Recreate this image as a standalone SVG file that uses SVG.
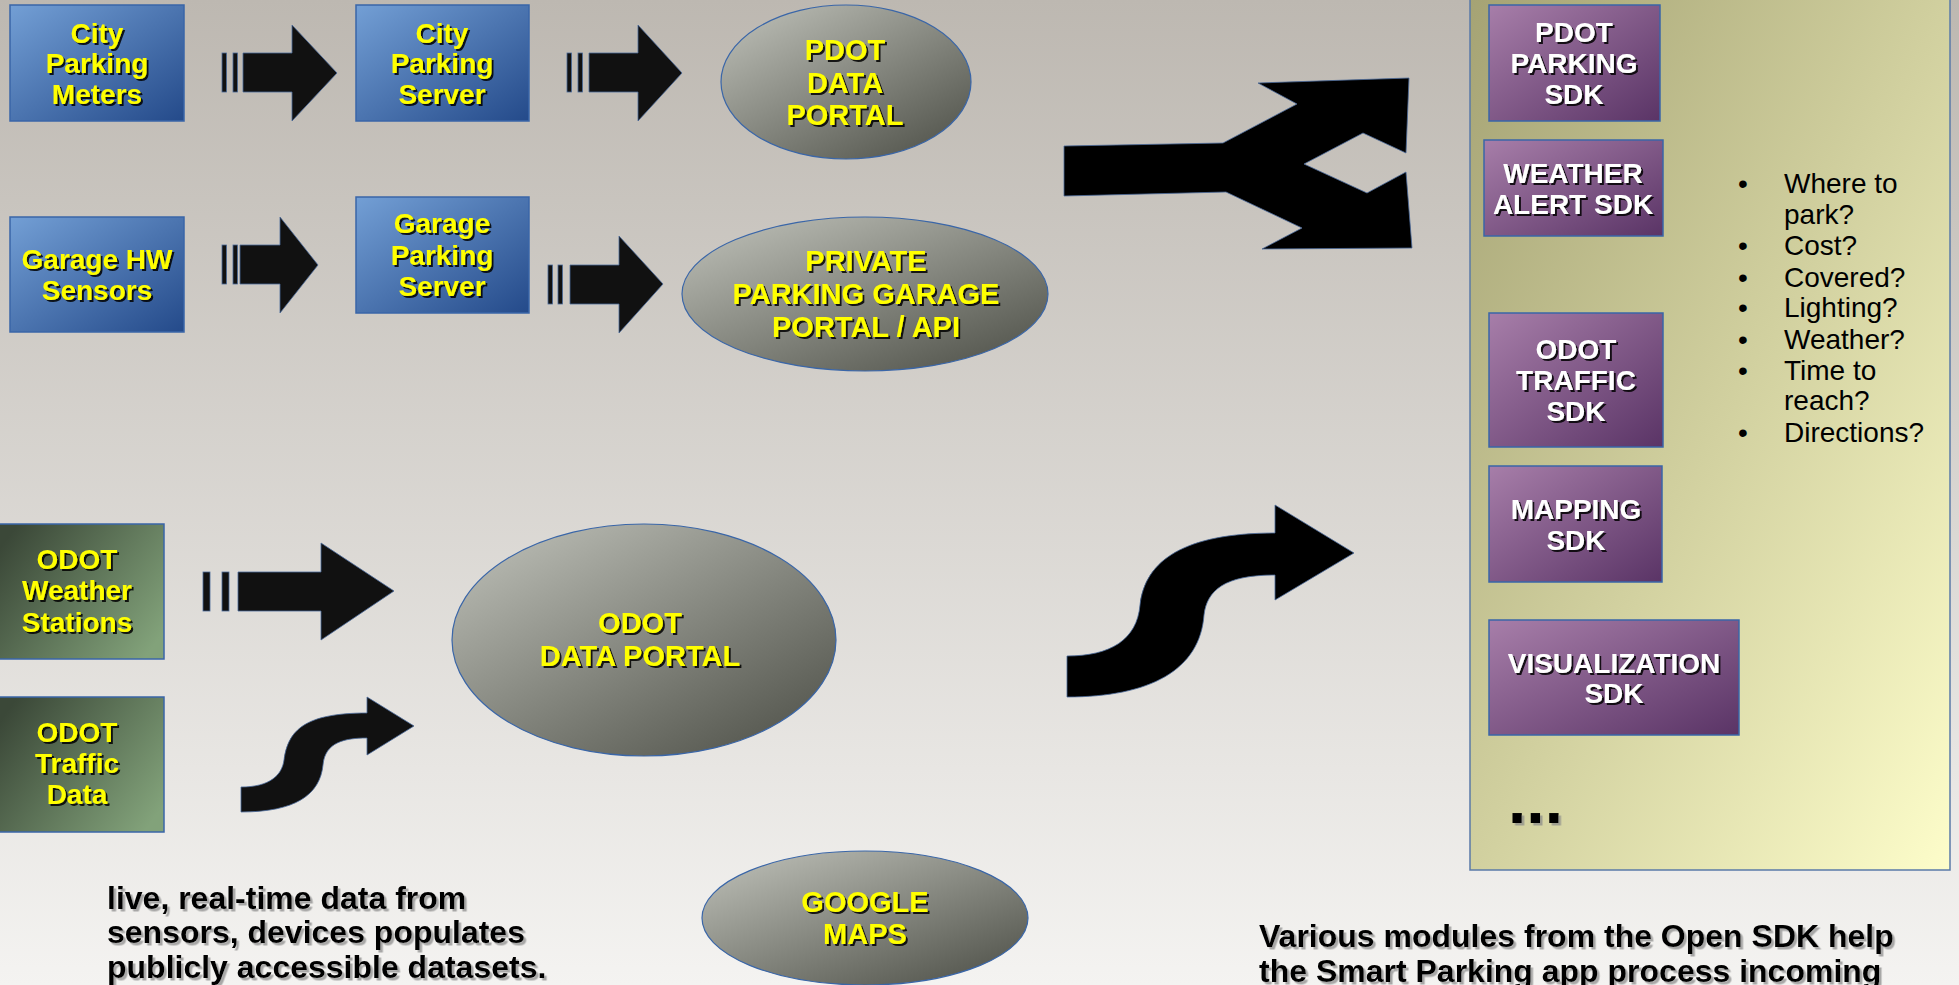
<svg xmlns="http://www.w3.org/2000/svg" width="1959" height="985" viewBox="0 0 1959 985">
<defs>
  <linearGradient id="bg" x1="0" y1="0" x2="0" y2="1">
    <stop offset="0" stop-color="#bdb8b1"/>
    <stop offset="1" stop-color="#f4f3f1"/>
  </linearGradient>
  <linearGradient id="panel" x1="0" y1="0" x2="1" y2="1">
    <stop offset="0" stop-color="#a5a374"/>
    <stop offset="1" stop-color="#fdfdca"/>
  </linearGradient>
  <linearGradient id="blue" x1="0" y1="0" x2="1" y2="1">
    <stop offset="0" stop-color="#739fd5"/>
    <stop offset="1" stop-color="#244a8a"/>
  </linearGradient>
  <linearGradient id="green" x1="0" y1="0.2" x2="1" y2="0.8">
    <stop offset="0" stop-color="#3b4838"/>
    <stop offset="1" stop-color="#82a27a"/>
  </linearGradient>
  <linearGradient id="purple" x1="0" y1="0" x2="1" y2="1">
    <stop offset="0" stop-color="#a77ea9"/>
    <stop offset="1" stop-color="#5a3466"/>
  </linearGradient>
  <linearGradient id="gray" x1="0.15" y1="0.1" x2="0.85" y2="0.9">
    <stop offset="0" stop-color="#b3b5ad"/>
    <stop offset="1" stop-color="#595b53"/>
  </linearGradient>
  <filter id="sh" x="-10%" y="-20%" width="130%" height="150%">
    <feDropShadow dx="2" dy="2" stdDeviation="0.6" flood-color="#000" flood-opacity="0.85"/>
  </filter>
  <filter id="shl" x="-10%" y="-20%" width="130%" height="150%">
    <feDropShadow dx="2.5" dy="2.5" stdDeviation="0.7" flood-color="#888" flood-opacity="0.7"/>
  </filter>
  <style>
    .bx { stroke: #3a66a8; stroke-width: 1.5; }
    .el { fill: url(#gray); stroke: #3a66a8; stroke-width: 1.2; }
    .yt { font-family: "Liberation Sans", Arial, sans-serif; font-weight: bold; font-size: 28px; fill: #ffff00; text-anchor: middle; filter: url(#sh); }
    .ye { font-size: 29px; }
    .wt { font-family: "Liberation Sans", Arial, sans-serif; font-weight: bold; font-size: 28px; fill: #ffffff; text-anchor: middle; filter: url(#sh); }
    .bt { font-family: "Liberation Sans", Arial, sans-serif; font-size: 28px; fill: #000; }
    .cap { font-family: "Liberation Sans", Arial, sans-serif; font-weight: bold; font-size: 32px; fill: #000; filter: url(#shl); }
    .arr { fill: #111; stroke: #4a6a9a; stroke-width: 0.8; }
    .arrb { fill: #000; stroke: #4a6a9a; stroke-width: 0.8; }
  </style>
</defs>

<rect x="0" y="0" width="1959" height="985" fill="url(#bg)"/>

<g id="sdk-panel">
  <rect x="1470" y="-2" width="480" height="872" fill="url(#panel)" stroke="#5a7aa8" stroke-width="1.5"/>
</g>

<g id="connectors">
  <rect class="arr" x="222" y="53" width="4.5" height="39"/>
  <rect class="arr" x="233" y="53" width="4.5" height="39"/>
  <path class="arr" d="M243,53 L292,53 L292,25 L337,73 L292,121 L292,92 L243,92 Z"/>
  <rect class="arr" x="567" y="53" width="4.5" height="39"/>
  <rect class="arr" x="578" y="53" width="4.5" height="39"/>
  <path class="arr" d="M589,53 L638,53 L638,25 L682,73 L638,121 L638,92 L589,92 Z"/>
  <rect class="arr" x="222" y="245" width="4.5" height="39"/>
  <rect class="arr" x="233" y="245" width="4.5" height="39"/>
  <path class="arr" d="M240,245 L280,245 L280,217 L318,265 L280,313 L280,284 L240,284 Z"/>
  <rect class="arr" x="548" y="265" width="4.5" height="39"/>
  <rect class="arr" x="558" y="265" width="4.5" height="39"/>
  <path class="arr" d="M570,265 L619,265 L619,236 L663,284 L619,333 L619,304 L570,304 Z"/>
  <path class="arrb" d="M1064,146 L1223,143 L1297,104 L1258,83 L1409,78 L1406,153 L1363,133 L1304,164 L1367,193 L1406,172 L1412,248 L1262,249 L1302,228 L1226,192 L1064,196 Z"/>
  <rect class="arr" x="203" y="572" width="7" height="39"/>
  <rect class="arr" x="222" y="572" width="7" height="39"/>
  <path class="arr" d="M238,572 L321,572 L321,543 L394,591 L321,640 L321,611 L238,611 Z"/>
  <path class="arr" d="M241,787 C270,787 282,775 284,760 C288,730 305,713 367,713 L367,697 L414,726 L367,755 L367,738 C345,738 325,742 323,765 C320,795 295,812 241,812 Z"/>
  <path class="arrb" d="M1067,656 C1110,656 1137,640 1140,605 C1145,560 1185,533 1275,533 L1275,505 L1354,553 L1275,600 L1275,575 C1225,575 1207,590 1204,615 C1200,670 1150,697 1067,697 Z"/>
</g>

<g id="city-parking-meters">
  <rect class="bx" x="10" y="5" width="174" height="116" fill="url(#blue)"/>
  <text class="yt" x="97" y="43">City</text>
  <text class="yt" x="97" y="73">Parking</text>
  <text class="yt" x="97" y="104">Meters</text>
</g>
<g id="city-parking-server">
  <rect class="bx" x="356" y="5" width="173" height="116" fill="url(#blue)"/>
  <text class="yt" x="442" y="43">City</text>
  <text class="yt" x="442" y="73">Parking</text>
  <text class="yt" x="442" y="104">Server</text>
</g>
<g id="garage-hw-sensors">
  <rect class="bx" x="10" y="217" width="174" height="115" fill="url(#blue)"/>
  <text class="yt" x="97" y="269">Garage HW</text>
  <text class="yt" x="97" y="300">Sensors</text>
</g>
<g id="garage-parking-server">
  <rect class="bx" x="356" y="197" width="173" height="116" fill="url(#blue)"/>
  <text class="yt" x="442" y="233">Garage</text>
  <text class="yt" x="442" y="265">Parking</text>
  <text class="yt" x="442" y="296">Server</text>
</g>
<g id="pdot-data-portal">
  <ellipse class="el" cx="846" cy="82" rx="125" ry="77"/>
  <text class="yt ye" x="845" y="60">PDOT</text>
  <text class="yt ye" x="845" y="93">DATA</text>
  <text class="yt ye" x="845" y="125">PORTAL</text>
</g>
<g id="private-garage-portal">
  <ellipse class="el" cx="865" cy="294" rx="183" ry="77"/>
  <text class="yt ye" x="866" y="271">PRIVATE</text>
  <text class="yt ye" x="866" y="304">PARKING GARAGE</text>
  <text class="yt ye" x="866" y="337">PORTAL / API</text>
</g>
<g id="odot-weather-stations">
  <rect class="bx" x="-2" y="524" width="166" height="135" fill="url(#green)"/>
  <text class="yt" x="77" y="569">ODOT</text>
  <text class="yt" x="77" y="600">Weather</text>
  <text class="yt" x="77" y="632">Stations</text>
</g>
<g id="odot-traffic-data">
  <rect class="bx" x="-2" y="697" width="166" height="135" fill="url(#green)"/>
  <text class="yt" x="77" y="742">ODOT</text>
  <text class="yt" x="77" y="773">Traffic</text>
  <text class="yt" x="77" y="804">Data</text>
</g>
<g id="odot-data-portal">
  <ellipse class="el" cx="644" cy="640" rx="192" ry="116"/>
  <text class="yt ye" x="640" y="633">ODOT</text>
  <text class="yt ye" x="640" y="666">DATA PORTAL</text>
</g>
<g id="google-maps">
  <ellipse class="el" cx="865" cy="918" rx="163" ry="67"/>
  <text class="yt ye" x="865" y="912">GOOGLE</text>
  <text class="yt ye" x="865" y="944">MAPS</text>
</g>

<g id="pdot-parking-sdk">
  <rect class="bx" x="1489" y="5" width="171" height="116" fill="url(#purple)"/>
  <text class="wt" x="1574" y="42">PDOT</text>
  <text class="wt" x="1574" y="73">PARKING</text>
  <text class="wt" x="1574" y="104">SDK</text>
</g>
<g id="weather-alert-sdk">
  <rect class="bx" x="1484" y="140" width="179" height="96" fill="url(#purple)"/>
  <text class="wt" x="1573" y="183">WEATHER</text>
  <text class="wt" x="1573" y="214">ALERT SDK</text>
</g>
<g id="odot-traffic-sdk">
  <rect class="bx" x="1489" y="313" width="174" height="134" fill="url(#purple)"/>
  <text class="wt" x="1576" y="359">ODOT</text>
  <text class="wt" x="1576" y="390">TRAFFIC</text>
  <text class="wt" x="1576" y="421">SDK</text>
</g>
<g id="mapping-sdk">
  <rect class="bx" x="1489" y="466" width="173" height="116" fill="url(#purple)"/>
  <text class="wt" x="1576" y="519">MAPPING</text>
  <text class="wt" x="1576" y="550">SDK</text>
</g>
<g id="visualization-sdk">
  <rect class="bx" x="1489" y="620" width="250" height="115" fill="url(#purple)"/>
  <text class="wt" x="1614" y="673">VISUALIZATION</text>
  <text class="wt" x="1614" y="703">SDK</text>
</g>
<g id="ellipsis">
  <text x="1508" y="823" font-family="Liberation Sans, Arial, sans-serif" font-weight="bold" font-size="66" fill="#000" filter="url(#shl)">...</text>
</g>

<g id="questions">
  <g class="bt" text-anchor="middle">
    <text x="1743" y="193">•</text>
    <text x="1743" y="255">•</text>
    <text x="1743" y="287">•</text>
    <text x="1743" y="317">•</text>
    <text x="1743" y="349">•</text>
    <text x="1743" y="380">•</text>
    <text x="1743" y="442">•</text>
  </g>
  <g class="bt">
    <text x="1784" y="193">Where to</text>
    <text x="1784" y="224">park?</text>
    <text x="1784" y="255">Cost?</text>
    <text x="1784" y="287">Covered?</text>
    <text x="1784" y="317">Lighting?</text>
    <text x="1784" y="349">Weather?</text>
    <text x="1784" y="380">Time to</text>
    <text x="1784" y="410">reach?</text>
    <text x="1784" y="442">Directions?</text>
  </g>
</g>

<g id="caption-left">
  <text class="cap" x="107" y="909">live, real-time data from</text>
  <text class="cap" x="107" y="943">sensors, devices populates</text>
  <text class="cap" x="107" y="978">publicly accessible datasets.</text>
</g>
<g id="caption-right">
  <text class="cap" x="1259" y="947">Various modules from the Open SDK help</text>
  <text class="cap" x="1259" y="982">the Smart Parking app process incoming</text>
</g>
</svg>
